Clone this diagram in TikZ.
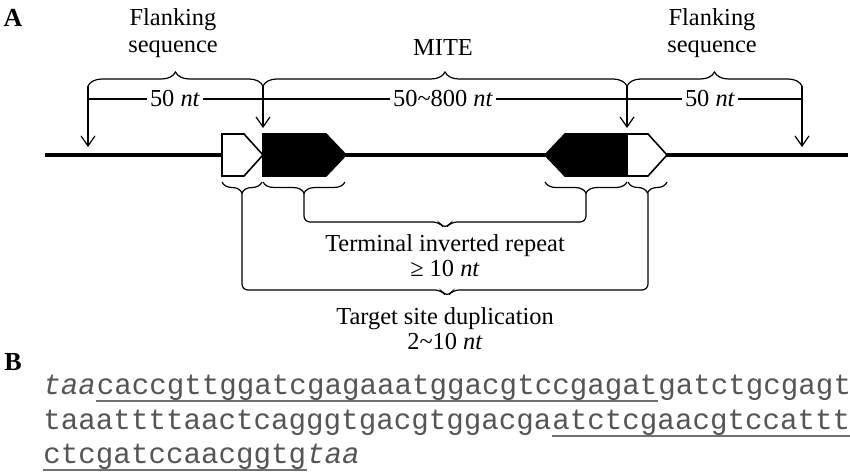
\documentclass[tikz,border=0pt]{standalone}
\usepackage{fontspec}
\setmainfont{Liberation Serif}
\setmonofont{Liberation Mono}
\usetikzlibrary{arrows.meta,decorations.pathreplacing,calc}
\definecolor{seqgray}{HTML}{555555}
\definecolor{ulgray}{HTML}{707070}
\newcommand\labsz{\fontsize{12.2}{12.5}\selectfont}
\newcommand\seqtt{\fontsize{14.6}{17.5}\selectfont\ttfamily}

\begin{document}
\begin{tikzpicture}[x=0.5pt,y=-0.5pt, every node/.style={font=\labsz},
    boxline/.style={line width=0.8pt},
    topbrace/.style={decorate,decoration={brace,amplitude=7pt},line width=0.6pt},
    botbrace/.style={decorate,decoration={brace,amplitude=5.5pt,mirror},line width=0.6pt},
    bracket/.style={rounded corners=3pt,line width=0.6pt},
    drop/.style={-{Straight Barb[length=5pt,width=7pt]},line width=0.6pt},
    dimlabel/.style={fill=white,inner xsep=1.5pt,inner ysep=0pt},
    seq/.style={anchor=base west,inner sep=0pt,text=seqgray,font=\seqtt},
    seqline/.style={draw=ulgray,line width=1pt}]
        \useasboundingbox (0,0) rectangle (850,475);
        % panel A
        \node[font=\fontsize{13}{13}\selectfont\bfseries] (pA) at (13,18) {A};
        \draw[line width=2.2pt] (45,155) -- (848,155);
        \draw[boxline,fill=white] (222,134) -- (244,134) -- (263,155) -- (244,176) -- (222,176) -- cycle;
        \draw[boxline,fill=black] (263,134) -- (326,134) -- (346,155) -- (326,176) -- (263,176) -- cycle;
        \draw[boxline,fill=black] (627,134) -- (565,134) -- (545,155) -- (565,176) -- (627,176) -- cycle;
        \draw[boxline,fill=white] (627,134) -- (648,134) -- (667,155) -- (648,176) -- (627,176) -- cycle;
        % top marks
        \coordinate (flL) at (88,86);
        \coordinate (miL) at (263,86);
        \coordinate (miR) at (627,86);
        \coordinate (flR) at (802,86);
        \coordinate (hitL) at (88,147);
        \coordinate (hitML) at (263,128);
        \coordinate (hitMR) at (627,128);
        \coordinate (hitR) at (802,147);
        \draw[topbrace] (flL) -- (miL);
        \draw[topbrace] (miL) -- (miR);
        \draw[topbrace] (miR) -- (flR);
        \draw[drop] (flL) -- (hitL);
        \draw[drop] (miL) -- (hitML);
        \draw[drop] (miR) -- (hitMR);
        \draw[drop] (flR) -- (hitR);
        \draw[line width=0.6pt] (flL |- 0,99) -- (flR |- 0,99);
        \node[dimlabel] (dimL) at (175,99) {50 \textit{nt}};
        \node[dimlabel] (dimM) at (443,99) {50\textasciitilde800 \textit{nt}};
        \node[dimlabel] (dimR) at (710,99) {50 \textit{nt}};
        \node[align=center,font=\fontsize{12.2}{13.5}\selectfont] (flankL) at (173,33) {Flanking\\sequence};
        \node (mite) at (443,48) {MITE};
        \node[align=center,font=\fontsize{12.2}{13.5}\selectfont] (flankR) at (712,33) {Flanking\\sequence};
        % bottom marks
        \draw[botbrace] (222,182) -- (262,182);
        \draw[botbrace] (263,182) -- (345,182);
        \draw[botbrace] (545,182) -- (627,182);
        \draw[botbrace] (628,182) -- (667,182);
        \coordinate (tsdL) at (242,193);
        \coordinate (tirL) at (304,193);
        \coordinate (tirR) at (586,193);
        \coordinate (tsdR) at (648,193);
        \draw[bracket] (tirL) |- (439,222) -- (445,229) -- (451,222) -| (tirR);
        \draw[bracket] (tsdL) |- (441,290) -- (447,297) -- (453,290) -| (tsdR);
        \node[align=center] (tir) at (445,256) {Terminal inverted repeat\\≥ 10 \textit{nt}};
        \node[align=center] (tsd) at (445,329) {Target site duplication\\2\textasciitilde10 \textit{nt}};
        % panel B
        \node[font=\fontsize{13}{13}\selectfont\bfseries] (pB) at (13,362) {B};
        \node[seq,font=\seqtt\itshape] (s1a) at (43,394) {taa};
        \node[seq] (s1b) at (s1a.base east) {caccgttggatcgagaaatggacgtccgagat};
        \node[seq] (s1c) at (s1b.base east) {gatctgcgagt};
        \node[seq] (s2a) at (43,429) {taaattttaactcagggtgacgtggacga};
        \node[seq] (s2b) at (s2a.base east) {atctcgaacgtccattt};
        \node[seq] (s3a) at (43,463) {ctcgatccaacggtg};
        \node[seq,font=\seqtt\itshape] (s3b) at (s3a.base east) {taa};
        \draw[seqline] ($(s1b.base west)+(0,7)$) -- ($(s1b.base east)+(0,7)$);
        \draw[seqline] ($(s2b.base west)+(0,7)$) -- ($(s2b.base east)+(0,7)$);
        \draw[seqline] ($(s3a.base west)+(0,7)$) -- ($(s3a.base east)+(0,7)$);
      \end{tikzpicture}
\end{document}
